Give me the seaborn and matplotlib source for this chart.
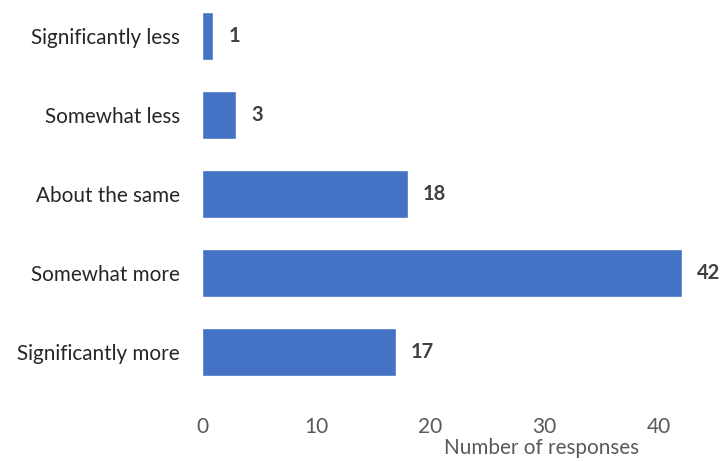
import matplotlib
matplotlib.use("Agg")
import matplotlib.pyplot as plt
import seaborn as sns
import pandas as pd

categories = ["Significantly less", "Somewhat less", "About the same", "Somewhat more", "Significantly more"]
responses = [1, 3, 18, 42, 17]
xticks = [0, 10, 20, 30, 40]

sns.set_theme(style="white")
plt.rcParams['font.family'] = ['Lato', 'DejaVu Sans']

df = pd.DataFrame({"category": categories, "responses": responses})

fig = plt.figure(figsize=(7.24, 4.61), dpi=100)
ax = fig.add_axes([0.279, 0.150, 0.71, 0.85])
sns.barplot(data=df, x="responses", y="category", order=categories, color="#4472C4",
            saturation=1, width=0.61, ax=ax)

for i, v in enumerate(responses):
    ax.text(v + 1.3, i, str(v), va="center", ha="left", fontsize=14.5, fontweight="bold", color="#404040")

ax.set_xlim(0, 45)
ax.set_ylim(4.5, -0.456)
ax.set_xticks(xticks)
ax.set_xticklabels([str(t) for t in xticks])
ax.tick_params(axis="x", labelsize=15, labelcolor="#595959", pad=18, length=0)
ax.tick_params(axis="y", labelsize=14.9, labelcolor="#262626", pad=16, length=0)
ax.set_ylabel("")
ax.set_xlabel("Number of responses", fontsize=14.9, color="#595959")
ax.xaxis.set_label_coords(0.661, -0.118)
for s in ax.spines.values():
    s.set_visible(False)

fig.savefig("out.png", dpi=100)
